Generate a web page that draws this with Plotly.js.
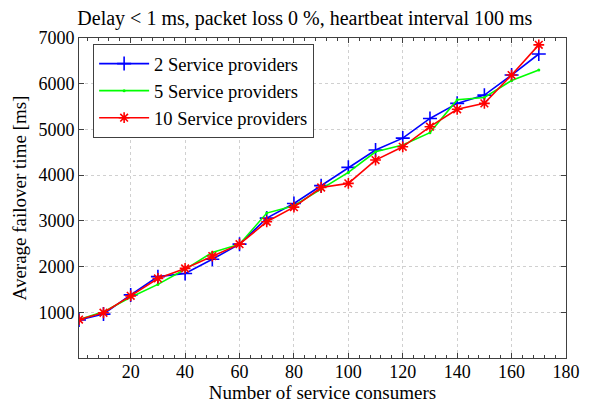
<!DOCTYPE html>
<html><head><meta charset="utf-8">
<script src="https://cdn.plot.ly/plotly-3.0.1.min.js"></script>
<style>body{margin:0;background:#fff}#c{width:592px;height:403px}</style>
</head><body><div id="c"></div>
<script>
const consumers = [1,10,20,30,40,50,60,70,80,90,100,110,120,130,140,150,160,170];
const sp2  = [830,960,1380,1780,1850,2160,2490,3060,3380,3770,4170,4550,4810,5240,5570,5750,6190,6650];
const sp5  = [840,1010,1330,1610,1940,2310,2490,3170,3330,3690,4060,4510,4660,4930,5650,5700,6070,6300];
const sp10 = [840,990,1360,1740,1960,2230,2490,2980,3300,3730,3820,4330,4620,5060,5440,5570,6190,6850];
const names = ['2 Service providers','5 Service providers','10 Service providers'];
const xTicks = [20,40,60,80,100,120,140,160,180];
const yTicks = [1000,2000,3000,4000,5000,6000,7000];

const font = 'Liberation Serif';
const traces = [
  {x:consumers,y:sp2,name:names[0],mode:'lines+markers',line:{color:'#0000ff',width:1.6},
   marker:{symbol:'cross-thin-open',size:10,color:'#0000ff',line:{width:1.6,color:'#0000ff'}}},
  {x:consumers,y:sp5,name:names[1],mode:'lines+markers',line:{color:'#00ff00',width:1.6},
   marker:{symbol:'circle',size:3,color:'#00ff00'}},
  {x:consumers,y:sp10,name:names[2],mode:'lines+markers',line:{color:'#ff0000',width:1.6},
   marker:{symbol:'asterisk-open',size:9,color:'#ff0000',line:{width:1.6,color:'#ff0000'}}}
];
const ax = {
  showline:true,linecolor:'#404040',linewidth:1,mirror:'ticks',ticks:'inside',ticklen:5,tickcolor:'#404040',
  showgrid:true,gridcolor:'#d0d0d0',griddash:'dot',gridwidth:1,zeroline:false,
  tickfont:{family:font,size:18,color:'#000'}
};
const layout = {
  width:592,height:403,paper_bgcolor:'#fff',plot_bgcolor:'#fff',
  margin:{l:79,r:26,t:38,b:45},
  font:{family:font,color:'#000'},
  title:{text:'Delay < 1 ms, packet loss 0 %, heartbeat interval 100 ms',font:{family:font,size:20,color:'#000'},
         x:0.515,xanchor:'center',y:0.955,yanchor:'middle'},
  xaxis:Object.assign({},ax,{range:[1,180],tickvals:xTicks,ticklabelstandoff:-3,
    minor:{dtick:4,tick0:0,ticks:'inside',ticklen:3,tickcolor:'#404040',showgrid:false},
    title:{text:'Number of service consumers',font:{family:font,size:19,color:'#000'},standoff:10}}),
  yaxis:Object.assign({},ax,{range:[0,7000],tickvals:yTicks,
    title:{text:'Average failover time [ms]',font:{family:font,size:19,color:'#000'},standoff:6}}),
  showlegend:true,
  legend:{x:0.029,y:0.981,xanchor:'left',yanchor:'top',bgcolor:'#fff',bordercolor:'#404040',borderwidth:1,
    font:{family:font,size:18.5,color:'#000'},tracegroupgap:0,itemwidth:50}
};
Plotly.newPlot('c',traces,layout,{displayModeBar:false,staticPlot:true});
</script></body></html>
